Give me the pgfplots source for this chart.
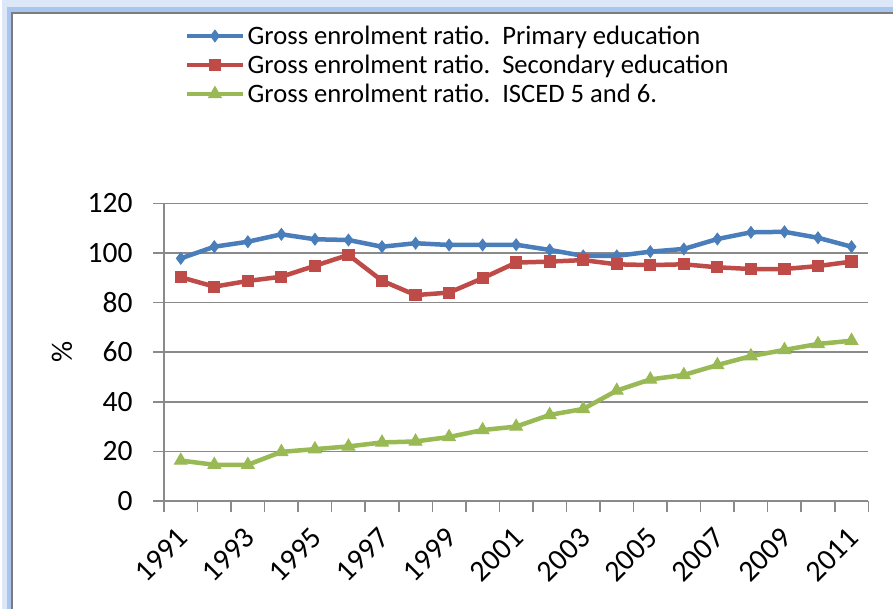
\documentclass[border=0pt]{standalone}
\usepackage{pgfplots}
\pgfplotsset{compat=1.18}
\usepackage{fontspec}
\setmainfont{Carlito}
\definecolor{sblue}{HTML}{4A7EBB}
\definecolor{sred}{HTML}{BE4B48}
\definecolor{sgreen}{HTML}{98B954}
\definecolor{gridc}{HTML}{8A8A8A}
\definecolor{glowA}{HTML}{DCE8F7}
\definecolor{glowB}{HTML}{A9C7EE}
\begin{document}
\begin{tikzpicture}
\path[use as bounding box] (0,0) rectangle (893pt,609pt);
% frame with glow
\draw[glowA, line width=10pt] (7pt,0) -- (7pt,604pt) -- (893pt,604pt);
\draw[glowB, line width=5pt] (9pt,0) -- (9pt,599pt) -- (893pt,599pt);
\draw[gridc!90!black, line width=2.2pt] (12pt,0) -- (12pt,596pt) -- (893pt,596pt);
\begin{axis}[
  at={(164pt,108pt)}, anchor=south west,
  scale only axis, width=704.3pt, height=297.7pt,
  xmin=-0.5, xmax=20.5, ymin=0, ymax=120,
  ytick={0,20,...,120},
  xtick={0,2,...,20},
  xticklabels={1991,1993,1995,1997,1999,2001,2003,2005,2007,2009,2011},
  minor xtick={-0.5,0.5,...,20.5},
  major x tick style={draw=none},
  tick align=outside,
  major tick length=11pt, minor tick length=11pt,
  every tick/.style={gridc, line width=1.5pt},
  axis x line*=bottom, axis y line*=left,
  axis line style={gridc, line width=1.5pt},
  ymajorgrids, major grid style={gridc, line width=1.5pt},
  /pgf/number format/assume math mode=true,
  tick label style={font=\fontsize{29.5pt}{34pt}\selectfont, text=black},
  xticklabel style={xshift=-5pt, yshift=-14pt, rotate=45, anchor=north east, inner sep=0pt,
    font=\fontsize{30pt}{36pt}\selectfont},
  yticklabel style={anchor=east, xshift=-17pt},
  ylabel={\%},
  ylabel style={at={(axis description cs:-0.1448,0.5)}, anchor=center, font=\fontsize{29.5pt}{34pt}\selectfont},
  legend cell align=left,
  legend style={at={(axis description cs:0.0291,1.603)}, anchor=north west, draw=none, fill=none,
    font=\fontsize{26.6pt}{30pt}\selectfont, row sep=5pt, inner sep=0pt,
    nodes={inner xsep=2.5pt}},
  legend image code/.code={\draw[#1, mark=none] (0pt,0pt) -- (56pt,0pt);
     \draw[#1, line width=0pt] plot coordinates {(28pt,0pt)};},
  every axis plot/.append style={line width=4.5pt, mark options={solid, line width=1pt}},
  clip=false,
]
\addplot[sblue, mark=diamond*, mark size=5.8pt] coordinates {
(0,97.8)(1,102.5)(2,104.5)(3,107.5)(4,105.5)(5,105.2)(6,102.5)(7,103.9)(8,103.2)(9,103.2)(10,103.3)
(11,101.2)(12,98.8)(13,98.8)(14,100.5)(15,101.6)(16,105.6)(17,108.3)(18,108.5)(19,106.1)(20,102.5)};
\addlegendentry{Gross enrolment ratio.\ \ Primary education}
\addplot[sred, mark=square*, mark size=5.6pt] coordinates {
(0,90.2)(1,86.4)(2,88.7)(3,90.4)(4,94.8)(5,99.2)(6,88.8)(7,83.0)(8,84.0)(9,89.8)(10,96.1)
(11,96.5)(12,97.1)(13,95.4)(14,95.1)(15,95.4)(16,94.2)(17,93.5)(18,93.5)(19,94.7)(20,96.5)};
\addlegendentry{Gross enrolment ratio.\ \ Secondary education}
\addplot[sgreen, mark=triangle*, mark size=7.3pt] coordinates {
(0,16.3)(1,14.6)(2,14.6)(3,19.8)(4,20.9)(5,22.0)(6,23.6)(7,24.0)(8,25.8)(9,28.6)(10,30.0)
(11,34.7)(12,37.1)(13,44.5)(14,49.0)(15,50.8)(16,54.8)(17,58.4)(18,60.9)(19,63.3)(20,64.6)};
\addlegendentry{Gross enrolment ratio.\ \ ISCED 5 and 6.}
\end{axis}
\end{tikzpicture}
\end{document}
